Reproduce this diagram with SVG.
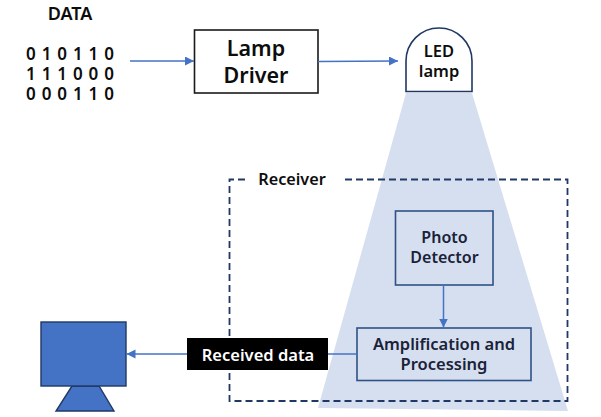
<svg xmlns="http://www.w3.org/2000/svg" width="601" height="417" viewBox="0 0 601 417">
<style>
text{font-family:"Noto Sans","Liberation Sans",sans-serif;font-weight:600;text-anchor:middle;fill:#0d0d0d}
.dk{fill:#1a2238}
.conn{stroke:#4472c4;stroke-width:1.5;fill:none}
</style>
<defs>
<marker id="arrow" markerUnits="userSpaceOnUse" markerWidth="10" markerHeight="10" refX="9" refY="4.5" orient="auto"><path d="M0 0L9 4.500L0 9Z" fill="#4472c4"/></marker>
</defs>
<polygon id="beam" points="406,93 472,93 568,411 318,408" fill="#d6dff0"/>
<g id="receiver">
<path d="M245 179.500H229.500V401H567.500V179.500H341" fill="none" stroke="#203864" stroke-width="1.800" stroke-dasharray="7 4"/>
<text x="292" y="185" font-size="16.200">Receiver</text>
</g>
<g id="data">
<text x="70" y="19.500" font-size="18">DATA</text>
<text x="70" y="60" font-size="17" word-spacing="1.500">0 1 0 1 1 0</text>
<text x="70" y="80" font-size="17" word-spacing="1.500">1 1 1 0 0 0</text>
<text x="70" y="99.500" font-size="17" word-spacing="1.500">0 0 0 1 1 0</text>
</g>
<g id="lamp-driver">
<rect x="194.500" y="30" width="123.500" height="63" fill="#fff" stroke="#1a1a1a" stroke-width="1.600"/>
<text x="256" y="56" font-size="21.500">Lamp</text>
<text x="256" y="83" font-size="21.500">Driver</text>
</g>
<g id="led-lamp">
<path d="M406 91.500V61A33 33 0 0 1 472 61V91.500Z" fill="#fff" stroke="#1f3864" stroke-width="1.600"/>
<text x="439" y="57" font-size="16.500">LED</text>
<text x="439" y="77" font-size="16.500">lamp</text>
</g>
<g id="photo-detector">
<rect x="395.500" y="211" width="97.500" height="74" fill="#d6dff0" stroke="#2f5285" stroke-width="1.600"/>
<text class="dk" x="444.500" y="243" font-size="16">Photo</text>
<text class="dk" x="444.500" y="263" font-size="16">Detector</text>
</g>
<g id="amplification">
<rect x="357" y="328" width="174" height="52.500" fill="#d6dff0" stroke="#2f5285" stroke-width="1.600"/>
<text class="dk" x="444" y="350" font-size="16.500">Amplification and</text>
<text class="dk" x="444" y="370" font-size="16.500">Processing</text>
</g>
<g id="received-data">
<rect x="187" y="338" width="141" height="32" fill="#000"/>
<text x="258" y="360.500" font-size="16.500" style="fill:#fff">Received data</text>
</g>
<g id="monitor">
<polygon points="72,386 99,386 114,411 56,411" fill="#4472c4" stroke="#1f3864" stroke-width="1.400"/>
<rect x="41" y="322" width="85" height="64" fill="#4472c4" stroke="#1f3864" stroke-width="1.400"/>
</g>
<g id="connectors">
<line class="conn" x1="130" y1="61" x2="194" y2="61" marker-end="url(#arrow)"/>
<line class="conn" x1="318" y1="61.500" x2="398" y2="61" marker-end="url(#arrow)"/>
<line class="conn" x1="443.500" y1="285" x2="443.500" y2="327.500" marker-end="url(#arrow)"/>
<line class="conn" x1="357" y1="354" x2="328" y2="354"/>
<line class="conn" x1="187" y1="354" x2="126.500" y2="354" marker-end="url(#arrow)"/>
</g>
</svg>
